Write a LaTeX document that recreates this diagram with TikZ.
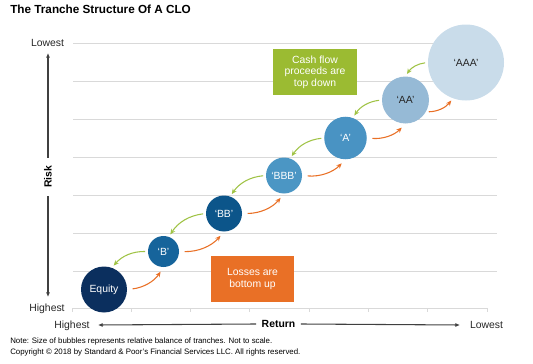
\documentclass[tikz,border=0pt]{standalone}
\usepackage{fontspec}
\setmainfont{Liberation Sans}
\usetikzlibrary{arrows.meta}

\definecolor{gridgray}{RGB}{217,217,217}
\definecolor{axisgray}{RGB}{64,64,64}
\definecolor{equityblue}{RGB}{11,47,94}
\definecolor{bblue}{RGB}{22,100,155}
\definecolor{bbblue}{RGB}{12,85,138}
\definecolor{bbbblue}{RGB}{75,150,196}
\definecolor{ablue}{RGB}{73,147,195}
\definecolor{aablue}{RGB}{150,186,214}
\definecolor{aaablue}{RGB}{201,220,234}
\definecolor{cashgreen}{RGB}{155,187,50}
\definecolor{arrowgreen}{RGB}{160,195,70}
\definecolor{lossorange}{RGB}{233,112,38}

\begin{document}
\begin{tikzpicture}[x=0.75pt, y=-0.75pt,
    lbl/.style={font=\fontsize{7.8}{9}\selectfont, text=black!85, inner sep=0pt},
    bubble/.style={circle, inner sep=0pt, font=\fontsize{7.8}{9}\selectfont},
    infobox/.style={text=white, align=center, inner sep=0pt, minimum width=62.5pt,
        minimum height=34.5pt, font=\fontsize{7.8}{8.6}\selectfont},
    gridline/.style={draw=gridgray, line width=0.75pt},
    axisarrow/.style={draw=axisgray, line width=0.8pt, -{Latex[length=3.5pt,width=3pt]}},
    cashflow/.style={draw=arrowgreen, line width=0.8pt, bend right=25,
        shorten <=2pt, shorten >=2pt, -{Stealth[length=4pt,width=3.5pt]}},
    losses/.style={draw=lossorange, line width=0.8pt, bend right=25,
        shorten <=4pt, shorten >=4pt, -{Stealth[length=4pt,width=3.5pt]}}]
    \useasboundingbox (0,0) rectangle (533,364);

    \node[anchor=base west, font=\fontsize{8.8}{10}\selectfont\bfseries, inner sep=0pt]
        (title) at (10,13.5) {The Tranche Structure Of A CLO};

    % grid
    \foreach \y in {43,81,...,271}
        \draw[gridline] (73,\y) -- (497,\y);
    \draw[gridline] (72,308) -- (487,308);
    \foreach \i in {0,...,7}
        \draw[gridline] ({72+59.3*\i},308) -- ++(0,4);

    % risk axis
    \node[lbl, anchor=mid] (riskLow) at (47.5,43) {Lowest};
    \node[lbl, anchor=mid] (riskHigh) at (47,308) {Highest};
    \node[lbl, font=\fontsize{7.8}{9}\selectfont\bfseries, text=black, rotate=90,
        inner xsep=6pt] (risk) at (48,177) {Risk};
    \coordinate (riskTop) at (48,53);
    \coordinate (riskBottom) at (48,297);
    \draw[axisarrow] (risk.east) -- (riskTop);
    \draw[axisarrow] (risk.west) -- (riskBottom);

    % return axis
    \node[lbl, anchor=mid] (retHigh) at (72,325) {Highest};
    \node[lbl, anchor=mid] (retLow) at (486.5,325) {Lowest};
    \node[lbl, anchor=mid, font=\fontsize{7.8}{9}\selectfont\bfseries, text=black,
        inner xsep=4pt] (return) at (278.5,324) {Return};
    \coordinate (retLeft) at (98,325);
    \coordinate (retRight) at (460,325);
    \draw[axisarrow] (return.west) -- (retLeft);
    \draw[axisarrow] (return.east) -- (retRight);

    % tranches
    \node[bubble, fill=equityblue, text=white, minimum size=34.5pt] (equity) at (104,289.5) {Equity};
    \node[bubble, fill=bblue, text=white, minimum size=23.25pt] (b) at (163.5,251.5) {‘B’};
    \node[bubble, fill=bbblue, text=white, minimum size=27pt] (bb) at (224,213.5) {‘BB’};
    \node[bubble, fill=bbbblue, text=white, minimum size=27pt] (bbb) at (284,175.5) {‘BBB’};
    \node[bubble, fill=ablue, text=white, minimum size=31.9pt] (a) at (345.5,138) {‘A’};
    \node[bubble, fill=aablue, text=black!85, minimum size=35.25pt] (aa) at (405.5,100) {‘AA’};
    \node[bubble, fill=aaablue, text=black!85, minimum size=57pt] (aaa) at (466,62.5) {‘AAA’};

    \node[infobox, fill=cashgreen] (cash) at (315,72) {Cash flow\\proceeds are\\top down};
    \node[infobox, fill=lossorange] (loss) at (252.5,279) {Losses are\\bottom up};

    % cash flow goes down
    \draw[cashflow] (aaa.west) to (aa.north);
    \draw[cashflow] (aa.west) to (a.70);
    \draw[cashflow] (a.west) to (bbb.70);
    \draw[cashflow] (bbb.west) to (bb.70);
    \draw[cashflow] (bb.west) to (b.70);
    \draw[cashflow] (b.west) to (equity.70);

    % losses go up
    \draw[losses] (equity.east) to (b.south);
    \draw[losses] (b.east) to (bb.south);
    \draw[losses] (bb.east) to (bbb.south);
    \draw[losses] (bbb.east) to (a.south);
    \draw[losses] (a.east) to (aa.south);
    \draw[losses, shorten <=2pt, shorten >=2pt] (aa.-30) to (aaa.250);

    \node[anchor=west, inner sep=0pt, font=\fontsize{5.9}{7}\selectfont] (note) at (10,341)
        {Note: Size of bubbles represents relative balance of tranches. Not to scale.};
    \node[anchor=west, inner sep=0pt, font=\fontsize{5.9}{7}\selectfont] (copyright) at (10,352)
        {Copyright © 2018 by Standard \& Poor’s Financial Services LLC. All rights reserved.};
\end{tikzpicture}
\end{document}
